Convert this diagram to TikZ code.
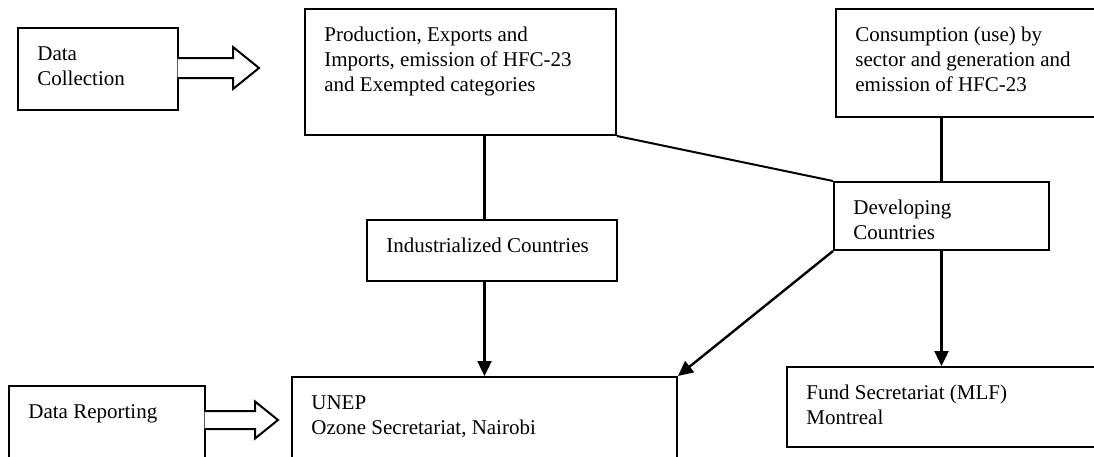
\documentclass[tikz,border=0pt]{standalone}
\usepackage{fontspec}
\setmainfont{Liberation Serif}
\usepackage{tikz}
\usetikzlibrary{arrows.meta}
\tikzset{box/.style = {draw, line width = 1pt, rectangle, inner sep = 0}}
\tikzset{txt/.style = {anchor = north west, align = left, inner sep = 0, xshift = 10pt, yshift = -9.5pt, font = \fontsize{10.5}{12.5}\selectfont}}
\tikzset{link/.style = {line width = 1.5pt}}
\tikzset{arr/.style = {line width = 1.2pt, -{Triangle[length = 7.5pt, width = 7pt]}}}
\tikzset{fat/.style = {draw, fill = white, line width = 1pt, line join = miter}}

\begin{document}
\begin{tikzpicture}[x = 0.5pt, y = -0.5pt]
      \useasboundingbox (0, 0) rectangle (1094, 456);
      \clip (0, 0) rectangle (1094, 456);

      \node[box, minimum width = 80pt, minimum height = 41pt, label = {[txt]north west:Data\\Collection}] (collect) at (98, 69) {};
      \node[box, minimum width = 155.5pt, minimum height = 63pt, label = {[txt]north west:{Production, Exports and\\Imports, emission of HFC-23\\and Exempted categories}}] (prod) at (460.5, 72) {};
      \node[box, minimum width = 137pt, minimum height = 54pt, label = {[txt]north west:{Consumption (use) by\\sector and generation and\\emission of HFC-23}}] (cons) at (973, 63) {};
      \node[box, minimum width = 107.5pt, minimum height = 34pt, label = {[txt]north west:Developing\\Countries}] (dev) at (941.5, 216) {};
      \node[box, minimum width = 125pt, minimum height = 30.5pt, label = {[txt]north west:Industrialized Countries}] (ind) at (492, 250.5) {};
      \node[box, minimum width = 192.5pt, minimum height = 46.5pt, label = {[txt]north west:{UNEP\\Ozone Secretariat, Nairobi}}] (unep) at (484.5, 423.5) {};
      \node[box, minimum width = 161.5pt, minimum height = 40pt, label = {[txt]north west:{Fund Secretariat (MLF)\\Montreal}}] (fund) at (948.5, 407) {};
      \node[box, minimum width = 98pt, minimum height = 42pt, label = {[txt]north west:Data Reporting}] (report) at (107, 428) {};

      % block arrows
      \draw[fat] (collect.north east) ++(-1.5, 31) -- ++(55.5, 0) -- ++(0, -11) -- ++(26, 21) -- ++(-26, 21) -- ++(0, -11) -- ++(-55.5, 0);
      \draw[fat] (report.north east) ++(-1.5, 26) -- ++(50.5, 0) -- ++(0, -9.5) -- ++(23, 18.5) -- ++(-23, 18.5) -- ++(0, -9.5) -- ++(-50.5, 0);

      \draw[link] (prod.south -| unep.north) -- (ind.north -| unep.north);
      \draw[line width = 1pt] (prod.south east) -- (dev.north west);
      \draw[link] (cons.south -| dev.north) -- (dev.north);

      \draw[arr] (ind.south -| unep.north) -- (unep.north);
      \draw[arr] (dev.south west) -- (unep.north east);
      \draw[arr] (dev.south) -- (dev.south |- fund.north);
    \end{tikzpicture}
\end{document}
